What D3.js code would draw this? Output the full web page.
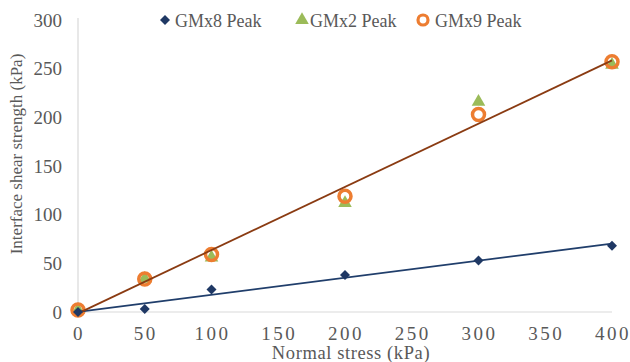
<!DOCTYPE html>
<html>
<head>
<meta charset="utf-8">
<script src="https://cdn.jsdelivr.net/npm/d3@7"></script>
</head>
<body style="margin:0">
<svg id="chart" width="630" height="362"></svg>
<script>
const normalStress = [0, 50, 100, 200, 300, 400];
const gmx8Peak = [0, 3, 23, 38, 53, 68];
const gmx2Peak = [2, 34, 56, 112, 216, 254];
const gmx9Peak = [2, 34, 59, 119, 203, 257];
const xTicks = [0, 50, 100, 150, 200, 250, 300, 350, 400];
const yTicks = [0, 50, 100, 150, 200, 250, 300];
const seriesNames = ["GMx8 Peak", "GMx2 Peak", "GMx9 Peak"];

const svg = d3.select("#chart");
const x = d3.scaleLinear().domain([0, 400]).range([78, 612]);
const y = d3.scaleLinear().domain([0, 300]).range([312, 20]);

// axes lines
svg.append("line").attr("x1", x(0)).attr("x2", x(0)).attr("y1", y(300) - 2).attr("y2", y(0))
  .attr("stroke", "#d9d9d9").attr("stroke-width", 1.2);
svg.append("line").attr("x1", x(0)).attr("x2", x(400)).attr("y1", y(0)).attr("y2", y(0))
  .attr("stroke", "#d9d9d9").attr("stroke-width", 1.2);

function txt(sel) { return sel.style("font-family", d => `"Liberation Serif", monospace`).attr("fill", "#595959"); }

// y tick labels
txt(svg.append("g").selectAll("text").data(yTicks).join("text"))
  .attr("x", 62).attr("y", d => y(d)).attr("dy", "0.35em")
  .attr("text-anchor", "end").attr("font-size", 19).text(d => d);

// x tick labels
txt(svg.append("g").selectAll("text").data(xTicks).join("text"))
  .attr("x", d => x(d) + 1).attr("y", 339.5)
  .attr("text-anchor", "middle").attr("font-size", 19).attr("letter-spacing", 2.5).text(d => d);

// axis titles
txt(svg.append("text")).attr("x", 351).attr("y", 359).attr("text-anchor", "middle")
  .attr("font-size", 18.5).attr("letter-spacing", 0.6).text("Normal stress (kPa)");
txt(svg.append("text")).attr("transform", "translate(22,154) rotate(-90)").attr("text-anchor", "middle")
  .attr("font-size", 17).text("Interface shear strength (kPa)");

// regression trendlines
function linreg(xs, ys) {
  const n = xs.length, mx = d3.mean(xs), my = d3.mean(ys);
  let sxy = 0, sxx = 0;
  for (let i = 0; i < n; i++) { sxy += (xs[i] - mx) * (ys[i] - my); sxx += (xs[i] - mx) ** 2; }
  const b = sxy / sxx; return { b, a: my - b * mx };
}
const line = d3.line().x(d => x(d[0])).y(d => y(d[1]));
const r8 = linreg(normalStress, gmx8Peak);
const r9 = linreg(normalStress, gmx9Peak);

const diamond = d3.symbol().type(d3.symbolSquare).size(50);
const triangle = d3.symbol().type(d3.symbolTriangle).size(80);

// GMx2 triangles
svg.append("g").selectAll("path").data(normalStress).join("path")
  .attr("d", triangle).attr("transform", (d, i) => `translate(${x(d)},${y(gmx2Peak[i])})`)
  .attr("fill", "#9bbb59");
// GMx9 circles
svg.append("g").selectAll("circle").data(normalStress).join("circle")
  .attr("cx", d => x(d)).attr("cy", (d, i) => y(gmx9Peak[i])).attr("r", 6)
  .attr("fill", "none").attr("stroke", "#ed7d31").attr("stroke-width", 3.5);

svg.append("path").attr("d", line([[0, r8.a], [400, r8.a + r8.b * 400]]))
  .attr("fill", "none").attr("stroke", "#203e6b").attr("stroke-width", 1.8);
svg.append("path").attr("d", line([[0, r9.a], [400, r9.a + r9.b * 400]]))
  .attr("fill", "none").attr("stroke", "#8a3b12").attr("stroke-width", 1.8);

// GMx8 diamonds
svg.append("g").selectAll("path").data(normalStress).join("path")
  .attr("d", diamond).attr("transform", (d, i) => `translate(${x(d)},${y(gmx8Peak[i])}) rotate(45)`)
  .attr("fill", "#1f3864");

// legend
const lg = svg.append("g");
const legendX = [165, 302, 423];
const textX = [175, 310, 435];
lg.append("path").attr("d", diamond).attr("transform", `translate(${legendX[0]},20) rotate(45)`).attr("fill", "#1f3864");
lg.append("path").attr("d", triangle).attr("transform", `translate(${legendX[1]},20)`).attr("fill", "#9bbb59");
lg.append("circle").attr("cx", legendX[2]).attr("cy", 20).attr("r", 5)
  .attr("fill", "none").attr("stroke", "#ed7d31").attr("stroke-width", 3.2);
txt(lg.selectAll("text").data(seriesNames).join("text"))
  .attr("x", (d, i) => textX[i]).attr("y", 26.5).attr("font-size", 18).text(d => d);
</script>
</body>
</html>
